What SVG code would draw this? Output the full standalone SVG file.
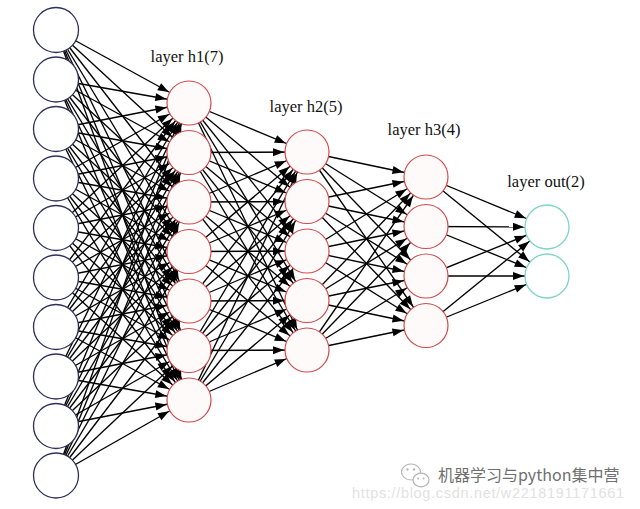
<svg xmlns="http://www.w3.org/2000/svg" width="640" height="509" viewBox="0 0 640 509">
<defs>
<marker id="arr" markerUnits="userSpaceOnUse" orient="auto" refX="23" refY="0" markerWidth="40" markerHeight="10" overflow="visible">
<path d="M-11,-4 L0,0 L-11,4 Z" fill="#000"/>
</marker>
</defs>
<style>
.e line{stroke:#000;stroke-width:1.35;marker-end:url(#arr)}
.in{fill:#fff;stroke:#2e2e5c;stroke-width:1.3}
.hid{fill:#fffafa;stroke:#d04a4a;stroke-width:1.2}
.out{fill:#fff;stroke:#7fd6c2;stroke-width:1.3}
.lbl{font-family:"Liberation Serif",serif;font-size:16.5px;fill:#111;text-anchor:middle}
</style>
<rect width="640" height="509" fill="#fff"/>
<g id="connectors" class="e">
<line x1="56" y1="30" x2="189" y2="103"/><line x1="56" y1="30" x2="189" y2="152.5"/><line x1="56" y1="30" x2="189" y2="202"/><line x1="56" y1="30" x2="189" y2="251.5"/><line x1="56" y1="30" x2="189" y2="301"/><line x1="56" y1="30" x2="189" y2="350.5"/><line x1="56" y1="30" x2="189" y2="400"/>
<line x1="56" y1="79.5" x2="189" y2="103"/><line x1="56" y1="79.5" x2="189" y2="152.5"/><line x1="56" y1="79.5" x2="189" y2="202"/><line x1="56" y1="79.5" x2="189" y2="251.5"/><line x1="56" y1="79.5" x2="189" y2="301"/><line x1="56" y1="79.5" x2="189" y2="350.5"/><line x1="56" y1="79.5" x2="189" y2="400"/>
<line x1="56" y1="129" x2="189" y2="103"/><line x1="56" y1="129" x2="189" y2="152.5"/><line x1="56" y1="129" x2="189" y2="202"/><line x1="56" y1="129" x2="189" y2="251.5"/><line x1="56" y1="129" x2="189" y2="301"/><line x1="56" y1="129" x2="189" y2="350.5"/><line x1="56" y1="129" x2="189" y2="400"/>
<line x1="56" y1="178.5" x2="189" y2="103"/><line x1="56" y1="178.5" x2="189" y2="152.5"/><line x1="56" y1="178.5" x2="189" y2="202"/><line x1="56" y1="178.5" x2="189" y2="251.5"/><line x1="56" y1="178.5" x2="189" y2="301"/><line x1="56" y1="178.5" x2="189" y2="350.5"/><line x1="56" y1="178.5" x2="189" y2="400"/>
<line x1="56" y1="228" x2="189" y2="103"/><line x1="56" y1="228" x2="189" y2="152.5"/><line x1="56" y1="228" x2="189" y2="202"/><line x1="56" y1="228" x2="189" y2="251.5"/><line x1="56" y1="228" x2="189" y2="301"/><line x1="56" y1="228" x2="189" y2="350.5"/><line x1="56" y1="228" x2="189" y2="400"/>
<line x1="56" y1="277.5" x2="189" y2="103"/><line x1="56" y1="277.5" x2="189" y2="152.5"/><line x1="56" y1="277.5" x2="189" y2="202"/><line x1="56" y1="277.5" x2="189" y2="251.5"/><line x1="56" y1="277.5" x2="189" y2="301"/><line x1="56" y1="277.5" x2="189" y2="350.5"/><line x1="56" y1="277.5" x2="189" y2="400"/>
<line x1="56" y1="327" x2="189" y2="103"/><line x1="56" y1="327" x2="189" y2="152.5"/><line x1="56" y1="327" x2="189" y2="202"/><line x1="56" y1="327" x2="189" y2="251.5"/><line x1="56" y1="327" x2="189" y2="301"/><line x1="56" y1="327" x2="189" y2="350.5"/><line x1="56" y1="327" x2="189" y2="400"/>
<line x1="56" y1="376.5" x2="189" y2="103"/><line x1="56" y1="376.5" x2="189" y2="152.5"/><line x1="56" y1="376.5" x2="189" y2="202"/><line x1="56" y1="376.5" x2="189" y2="251.5"/><line x1="56" y1="376.5" x2="189" y2="301"/><line x1="56" y1="376.5" x2="189" y2="350.5"/><line x1="56" y1="376.5" x2="189" y2="400"/>
<line x1="56" y1="426" x2="189" y2="103"/><line x1="56" y1="426" x2="189" y2="152.5"/><line x1="56" y1="426" x2="189" y2="202"/><line x1="56" y1="426" x2="189" y2="251.5"/><line x1="56" y1="426" x2="189" y2="301"/><line x1="56" y1="426" x2="189" y2="350.5"/><line x1="56" y1="426" x2="189" y2="400"/>
<line x1="56" y1="475.5" x2="189" y2="103"/><line x1="56" y1="475.5" x2="189" y2="152.5"/><line x1="56" y1="475.5" x2="189" y2="202"/><line x1="56" y1="475.5" x2="189" y2="251.5"/><line x1="56" y1="475.5" x2="189" y2="301"/><line x1="56" y1="475.5" x2="189" y2="350.5"/><line x1="56" y1="475.5" x2="189" y2="400"/>
<line x1="189" y1="103" x2="307" y2="152"/><line x1="189" y1="103" x2="307" y2="201.5"/><line x1="189" y1="103" x2="307" y2="251"/><line x1="189" y1="103" x2="307" y2="300.5"/><line x1="189" y1="103" x2="307" y2="350"/>
<line x1="189" y1="152.5" x2="307" y2="152"/><line x1="189" y1="152.5" x2="307" y2="201.5"/><line x1="189" y1="152.5" x2="307" y2="251"/><line x1="189" y1="152.5" x2="307" y2="300.5"/><line x1="189" y1="152.5" x2="307" y2="350"/>
<line x1="189" y1="202" x2="307" y2="152"/><line x1="189" y1="202" x2="307" y2="201.5"/><line x1="189" y1="202" x2="307" y2="251"/><line x1="189" y1="202" x2="307" y2="300.5"/><line x1="189" y1="202" x2="307" y2="350"/>
<line x1="189" y1="251.5" x2="307" y2="152"/><line x1="189" y1="251.5" x2="307" y2="201.5"/><line x1="189" y1="251.5" x2="307" y2="251"/><line x1="189" y1="251.5" x2="307" y2="300.5"/><line x1="189" y1="251.5" x2="307" y2="350"/>
<line x1="189" y1="301" x2="307" y2="152"/><line x1="189" y1="301" x2="307" y2="201.5"/><line x1="189" y1="301" x2="307" y2="251"/><line x1="189" y1="301" x2="307" y2="300.5"/><line x1="189" y1="301" x2="307" y2="350"/>
<line x1="189" y1="350.5" x2="307" y2="152"/><line x1="189" y1="350.5" x2="307" y2="201.5"/><line x1="189" y1="350.5" x2="307" y2="251"/><line x1="189" y1="350.5" x2="307" y2="300.5"/><line x1="189" y1="350.5" x2="307" y2="350"/>
<line x1="189" y1="400" x2="307" y2="152"/><line x1="189" y1="400" x2="307" y2="201.5"/><line x1="189" y1="400" x2="307" y2="251"/><line x1="189" y1="400" x2="307" y2="300.5"/><line x1="189" y1="400" x2="307" y2="350"/>
<line x1="307" y1="152" x2="426" y2="177"/><line x1="307" y1="152" x2="426" y2="226.5"/><line x1="307" y1="152" x2="426" y2="276"/><line x1="307" y1="152" x2="426" y2="325.5"/>
<line x1="307" y1="201.5" x2="426" y2="177"/><line x1="307" y1="201.5" x2="426" y2="226.5"/><line x1="307" y1="201.5" x2="426" y2="276"/><line x1="307" y1="201.5" x2="426" y2="325.5"/>
<line x1="307" y1="251" x2="426" y2="177"/><line x1="307" y1="251" x2="426" y2="226.5"/><line x1="307" y1="251" x2="426" y2="276"/><line x1="307" y1="251" x2="426" y2="325.5"/>
<line x1="307" y1="300.5" x2="426" y2="177"/><line x1="307" y1="300.5" x2="426" y2="226.5"/><line x1="307" y1="300.5" x2="426" y2="276"/><line x1="307" y1="300.5" x2="426" y2="325.5"/>
<line x1="307" y1="350" x2="426" y2="177"/><line x1="307" y1="350" x2="426" y2="226.5"/><line x1="307" y1="350" x2="426" y2="276"/><line x1="307" y1="350" x2="426" y2="325.5"/>
<line x1="426" y1="177" x2="547" y2="227"/><line x1="426" y1="177" x2="547" y2="276"/>
<line x1="426" y1="226.5" x2="547" y2="227"/><line x1="426" y1="226.5" x2="547" y2="276"/>
<line x1="426" y1="276" x2="547" y2="227"/><line x1="426" y1="276" x2="547" y2="276"/>
<line x1="426" y1="325.5" x2="547" y2="227"/><line x1="426" y1="325.5" x2="547" y2="276"/>
</g>
<g id="layer-in">
<circle id="in1" class="in" cx="56" cy="30" r="22.5"/>
<circle id="in2" class="in" cx="56" cy="79.5" r="22.5"/>
<circle id="in3" class="in" cx="56" cy="129" r="22.5"/>
<circle id="in4" class="in" cx="56" cy="178.5" r="22.5"/>
<circle id="in5" class="in" cx="56" cy="228" r="22.5"/>
<circle id="in6" class="in" cx="56" cy="277.5" r="22.5"/>
<circle id="in7" class="in" cx="56" cy="327" r="22.5"/>
<circle id="in8" class="in" cx="56" cy="376.5" r="22.5"/>
<circle id="in9" class="in" cx="56" cy="426" r="22.5"/>
<circle id="in10" class="in" cx="56" cy="475.5" r="22.5"/>
</g>
<g id="layer-h1">
<text class="lbl" x="187" y="62">layer h1(7)</text>
<circle id="h1_1" class="hid" cx="189" cy="103" r="22"/>
<circle id="h1_2" class="hid" cx="189" cy="152.5" r="22"/>
<circle id="h1_3" class="hid" cx="189" cy="202" r="22"/>
<circle id="h1_4" class="hid" cx="189" cy="251.5" r="22"/>
<circle id="h1_5" class="hid" cx="189" cy="301" r="22"/>
<circle id="h1_6" class="hid" cx="189" cy="350.5" r="22"/>
<circle id="h1_7" class="hid" cx="189" cy="400" r="22"/>
</g>
<g id="layer-h2">
<text class="lbl" x="306" y="112">layer h2(5)</text>
<circle id="h2_1" class="hid" cx="307" cy="152" r="22"/>
<circle id="h2_2" class="hid" cx="307" cy="201.5" r="22"/>
<circle id="h2_3" class="hid" cx="307" cy="251" r="22"/>
<circle id="h2_4" class="hid" cx="307" cy="300.5" r="22"/>
<circle id="h2_5" class="hid" cx="307" cy="350" r="22"/>
</g>
<g id="layer-h3">
<text class="lbl" x="424" y="135">layer h3(4)</text>
<circle id="h3_1" class="hid" cx="426" cy="177" r="22"/>
<circle id="h3_2" class="hid" cx="426" cy="226.5" r="22"/>
<circle id="h3_3" class="hid" cx="426" cy="276" r="22"/>
<circle id="h3_4" class="hid" cx="426" cy="325.5" r="22"/>
</g>
<g id="layer-out">
<text class="lbl" x="546" y="187">layer out(2)</text>
<circle id="out1" class="out" cx="547" cy="227" r="22"/>
<circle id="out2" class="out" cx="547" cy="276" r="22"/>
</g>
<g id="watermark">
<text x="352" y="498" font-family="'Liberation Sans',sans-serif" font-size="14.5" fill="#e2e2e2" textLength="272">https://blog.csdn.net/w2218191171661</text>
<g fill="#fff" stroke="#b5b5b5" stroke-width="1.2">
<ellipse cx="411" cy="472" rx="9.5" ry="8"/>
<ellipse cx="421" cy="480" rx="8" ry="6.8"/>
</g>
<g fill="#b5b5b5">
<circle cx="407.5" cy="469.5" r="1.2"/><circle cx="414" cy="469.5" r="1.2"/>
<circle cx="418" cy="478.5" r="1"/><circle cx="423.5" cy="478.5" r="1"/>
</g>
<text x="438" y="481" font-family="'Noto Sans CJK SC',sans-serif" font-size="16" fill="#707070">机器学习与python集中营</text>
</g>
</svg>
